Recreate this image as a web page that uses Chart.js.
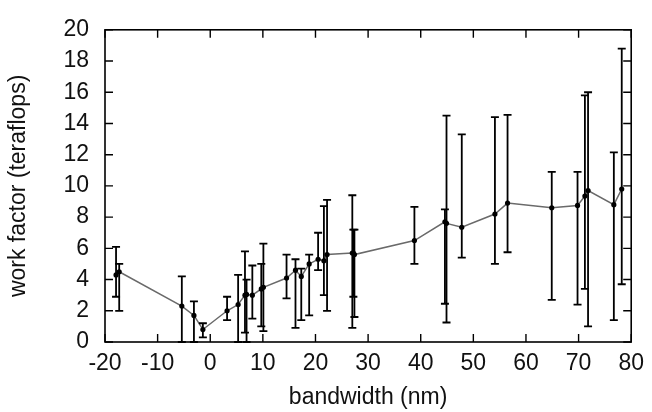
<!DOCTYPE html>
<html>
<head>
<meta charset="utf-8">
<script src="https://cdn.jsdelivr.net/npm/chart.js@4/dist/chart.umd.min.js"></script>
<style>
html,body{margin:0;padding:0;background:#fff;}
#wrap{width:652px;height:412px;position:relative;}
</style>
</head>
<body>
<div id="wrap"><canvas id="c" width="652" height="412"></canvas></div>
<script>
// bandwidth (nm)
const bandwidth = [-17.9, -17.3, -5.4, -3.1, -1.4, 3.2, 5.3, 6.6, 6.9, 8.0, 9.7, 10.1, 14.5, 16.2, 17.3, 18.8, 20.5, 21.6, 22.2, 27.0, 27.2, 27.4, 38.8, 44.6, 44.9, 47.8, 54.1, 56.5, 64.9, 69.8, 71.2, 71.8, 76.7, 78.2];
// work factor (teraflops)
const workFactor = [4.3, 4.5, 2.3, 1.7, 0.8, 2.0, 2.4, 3.0, 3.05, 3.0, 3.4, 3.5, 4.1, 4.6, 4.2, 5.0, 5.3, 5.2, 5.6, 5.7, 5.7, 5.6, 6.5, 7.7, 7.6, 7.35, 8.2, 8.9, 8.6, 8.75, 9.35, 9.7, 8.8, 9.8];
// error bar lower / upper ends
const errLow  = [2.9, 2.0, 0.0, 0.0, 0.3, 1.4, 0.0, 0.6, 0.0, 1.5, 1.0, 0.7, 2.8, 0.9, 1.4, 1.7, 4.6, 3.0, 2.0, 0.9, 2.9, 1.6, 5.0, 2.45, 1.25, 5.4, 5.0, 5.75, 2.7, 2.4, 3.4, 1.0, 1.4, 3.7];
const errHigh = [6.1, 5.0, 4.2, 2.6, 1.2, 2.9, 4.3, 5.8, 4.0, 4.9, 5.0, 6.3, 5.6, 5.3, 4.7, 5.6, 7.0, 8.7, 9.1, 9.4, 7.2, 7.2, 8.65, 8.5, 14.5, 13.3, 14.4, 14.55, 10.9, 10.9, 15.8, 16.0, 12.15, 18.8];
// tick values
const xTickValues = [-20, -10, 0, 10, 20, 30, 40, 50, 60, 70, 80];
const yTickValues = [0, 2, 4, 6, 8, 10, 12, 14, 16, 18, 20];

const points = bandwidth.map((x, i) => ({x: x, y: workFactor[i]}));
const FONT = "'Liberation Sans', Arial, sans-serif";

const framePlugin = {
  id: 'frame',
  afterDatasetsDraw(chart) {
    const ctx = chart.ctx;
    const xs = chart.scales.x, ys = chart.scales.y;
    const meta = chart.getDatasetMeta(0);
    // error bars
    ctx.save();
    ctx.strokeStyle = '#000';
    ctx.lineWidth = 1.8;
    const cap = 4;
    for (let i = 0; i < bandwidth.length; i++) {
      const px = xs.getPixelForValue(bandwidth[i]);
      const lo = ys.getPixelForValue(errLow[i]);
      const hi = ys.getPixelForValue(errHigh[i]);
      ctx.beginPath();
      ctx.moveTo(px, lo); ctx.lineTo(px, hi);
      ctx.moveTo(px - cap, lo); ctx.lineTo(px + cap, lo);
      ctx.moveTo(px - cap, hi); ctx.lineTo(px + cap, hi);
      ctx.stroke();
    }
    // markers on top
    ctx.fillStyle = '#000';
    meta.data.forEach(p => {
      ctx.beginPath();
      ctx.arc(p.x, p.y, 2.6, 0, Math.PI * 2);
      ctx.fill();
    });
    ctx.restore();
  },
  afterDraw(chart) {
    const ctx = chart.ctx;
    const a = chart.chartArea;
    const xs = chart.scales.x, ys = chart.scales.y;
    ctx.save();
    ctx.strokeStyle = '#000';
    ctx.lineWidth = 1.6;
    ctx.strokeRect(a.left, a.top, a.right - a.left, a.bottom - a.top);
    ctx.lineWidth = 1.4;
    const tl = 8;
    ctx.beginPath();
    xTickValues.forEach(v => {
      const px = xs.getPixelForValue(v);
      ctx.moveTo(px, a.bottom); ctx.lineTo(px, a.bottom - tl);
      ctx.moveTo(px, a.top); ctx.lineTo(px, a.top + tl);
    });
    yTickValues.forEach(v => {
      const py = ys.getPixelForValue(v);
      ctx.moveTo(a.left, py); ctx.lineTo(a.left + tl, py);
      ctx.moveTo(a.right, py); ctx.lineTo(a.right - tl, py);
    });
    ctx.stroke();
    ctx.restore();
  }
};

new Chart(document.getElementById('c'), {
  type: 'scatter',
  data: {
    datasets: [{
      data: points,
      showLine: true,
      borderColor: '#6a6a6a',
      borderWidth: 1.5,
      pointRadius: 0,
      pointHoverRadius: 0,
      tension: 0
    }]
  },
  options: {
    responsive: false,
    animation: false,
    devicePixelRatio: 1,
    layout: {padding: {top: 16, right: 16, left: 0, bottom: 0}},
    plugins: {legend: {display: false}, tooltip: {enabled: false}},
    scales: {
      x: {
        type: 'linear', min: -20, max: 80,
        afterBuildTicks: s => { s.ticks = xTickValues.map(v => ({value: v})); },
        grid: {display: false, drawTicks: false},
        border: {display: false},
        ticks: {color: '#111', font: {family: FONT, size: 23}, padding: 8, maxRotation: 0, autoSkip: false},
        title: {display: true, text: 'bandwidth (nm)', color: '#111', font: {family: FONT, size: 23}, padding: {top: 0, bottom: 1}},
        afterFit: s => { s.height = 70; }
      },
      y: {
        type: 'linear', min: 0, max: 20,
        afterBuildTicks: s => { s.ticks = yTickValues.map(v => ({value: v})); },
        grid: {display: false, drawTicks: false},
        border: {display: false},
        ticks: {color: '#111', font: {family: FONT, size: 23}, padding: 16, autoSkip: false},
        title: {display: true, text: 'work factor (teraflops)', color: '#111', font: {family: FONT, size: 23}, padding: {top: 5, bottom: 0}},
        afterFit: s => { s.width = 105; }
      }
    }
  },
  plugins: [framePlugin]
});
</script>
</body>
</html>
